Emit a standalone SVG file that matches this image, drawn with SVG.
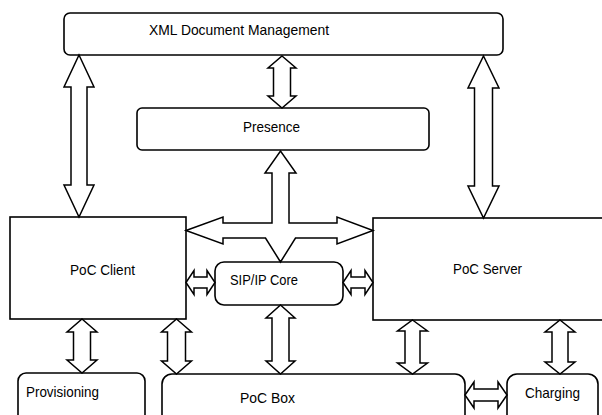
<svg xmlns="http://www.w3.org/2000/svg" width="602" height="415" viewBox="0 0 602 415">
<style>
.box{fill:#fff;stroke:#000;stroke-width:1.6}
.arr{fill:#fff;stroke:#000;stroke-width:1.5;stroke-linejoin:miter}
.lbl{font-family:"Liberation Sans",Arial,sans-serif;font-size:15px;fill:#000}
</style>
<rect width="602" height="415" fill="#fff"/>
<g id="xml"><rect class="box" x="64" y="13" width="439" height="42" rx="6"/><text class="lbl" x="149" y="35" textLength="180" lengthAdjust="spacingAndGlyphs">XML Document Management</text></g>
<g id="presence"><rect class="box" x="137" y="108" width="292" height="42" rx="5"/><text class="lbl" x="243" y="132" textLength="57" lengthAdjust="spacingAndGlyphs">Presence</text></g>
<g id="client"><rect class="box" x="10" y="217" width="176" height="102"/><text class="lbl" x="70" y="275" textLength="65" lengthAdjust="spacingAndGlyphs">PoC Client</text></g>
<g id="server"><rect class="box" x="373" y="218" width="240" height="102"/><text class="lbl" x="453" y="273.5" textLength="69" lengthAdjust="spacingAndGlyphs">PoC Server</text></g>
<g id="sipcore"><rect class="box" x="215" y="262" width="128" height="43" rx="9"/><text class="lbl" x="230" y="284.5" textLength="68" lengthAdjust="spacingAndGlyphs">SIP/IP Core</text></g>
<g id="provisioning"><rect class="box" x="18" y="373" width="127" height="55" rx="8"/><text class="lbl" x="26" y="396.5" textLength="73" lengthAdjust="spacingAndGlyphs">Provisioning</text></g>
<g id="pocbox"><rect class="box" x="162" y="374" width="303" height="55" rx="10"/><text class="lbl" x="240" y="402.5" textLength="55" lengthAdjust="spacingAndGlyphs">PoC Box</text></g>
<g id="charging"><rect class="box" x="507" y="374" width="91" height="55" rx="10"/><text class="lbl" x="525" y="398" textLength="55" lengthAdjust="spacingAndGlyphs">Charging</text></g>
<g id="connectors">
<polygon class="arr" points="79,55 94,87 87,87 87,185 94,185 79,217 64,185 71,185 71,87 64,87"/>
<polygon class="arr" points="282,56 296,68 290.5,68 290.5,96 296,96 282,108 268,96 273.5,96 273.5,68 268,68"/>
<polygon class="arr" points="483.5,56 499,88 492.5,88 492.5,186 499,186 483.5,218 468,186 474.5,186 474.5,88 468,88"/>
<polygon class="arr" points="186,230.5 223,217 223,223 272,223 272,173 265,173 280.5,151 296,173 289,173 289,223 337,223 337,217 373,230.5 337,244 337,238 295.5,238 280.5,262 265.5,238 223,238 223,244"/>
<polygon class="arr" points="186,282.5 194,270.5 194,277 207,277 207,270.5 215,282.5 207,294.5 207,288 194,288 194,294.5"/>
<polygon class="arr" points="343,282.5 351,270.5 351,277 365,277 365,270.5 373,282.5 365,294.5 365,288 351,288 351,294.5"/>
<polygon class="arr" points="82,319 97,332 90.5,332 90.5,360 97,360 82,373 67,360 73.5,360 73.5,332 67,332"/>
<polygon class="arr" points="176.5,319 191.5,332 185.5,332 185.5,361 191.5,361 176.5,374 161.5,361 167.5,361 167.5,332 161.5,332"/>
<polygon class="arr" points="280.5,305 295,318 289,318 289,361 295,361 280.5,374 266,361 272,361 272,318 266,318"/>
<polygon class="arr" points="412.5,320 427.5,331 420,331 420,363 427.5,363 412.5,374 397.5,363 405,363 405,331 397.5,331"/>
<polygon class="arr" points="560,320 575,332 568,332 568,362 575,362 560,374 545,362 552,362 552,332 545,332"/>
<polygon class="arr" points="465,395 474,382 474,389 498,389 498,382 507,395 498,408 498,401 474,401 474,408"/>
</g>
</svg>
